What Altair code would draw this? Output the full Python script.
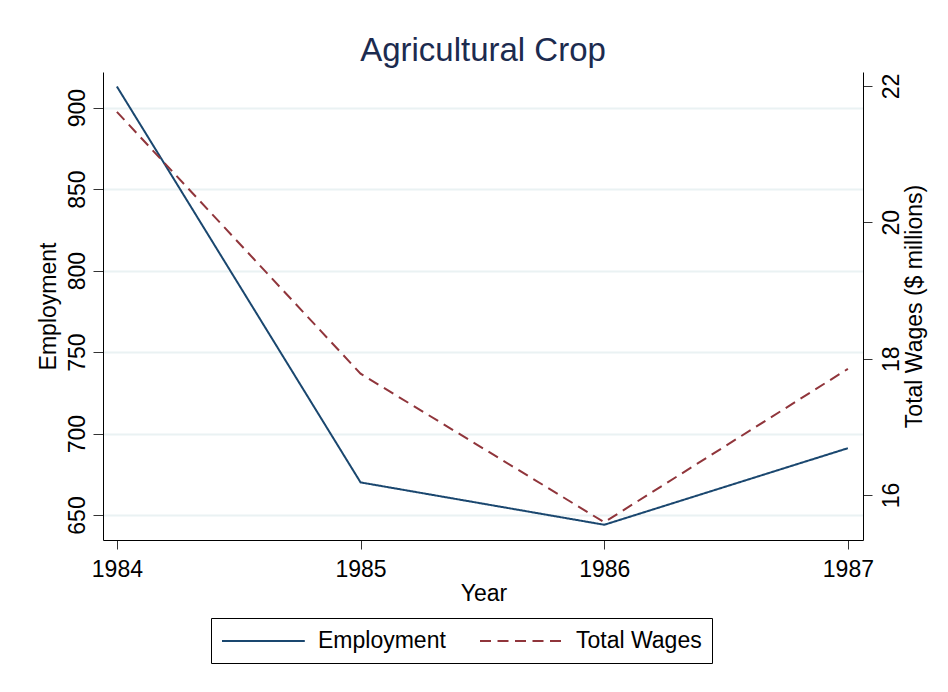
import altair as alt
import pandas as pd

years = [1984, 1985, 1986, 1987]
employment = [913, 670, 644, 691]
total_wages = [21.62, 17.78, 15.60, 17.85]
series_names = ["Employment", "Total Wages"]
emp_ticks = [650, 700, 750, 800, 850, 900]
wage_ticks = [16, 18, 20, 22]

df = pd.DataFrame({
    "Year": years * 2,
    "series": [series_names[0]] * 4 + [series_names[1]] * 4,
    "value": employment + total_wages,
})

FONT = "Liberation Sans"
W, H = 760, 468

color_scale = alt.Scale(domain=series_names, range=["#1a476f", "#90353b"])
dash_scale = alt.Scale(domain=series_names, range=[[1, 0], [11, 6.5]])

legend = alt.Legend(
    title=None, orient="none", legendX=108, legendY=546, direction="horizontal",
    symbolType="M-1,0H5.9", symbolSize=576, symbolStrokeWidth=2,
    labelFontSize=23, labelFont=FONT, labelColor="black", labelOffset=71,
    columnPadding=30, padding=10, strokeColor="black", fillColor="white",
)

x_enc = alt.X(
    "Year:Q",
    scale=alt.Scale(domain=[1983.943, 1987.062], nice=False, zero=False),
    axis=alt.Axis(
        values=years, format="d", grid=False, tickSize=9, labelFontSize=23,
        labelBaseline="alphabetic", labelPadding=27, labelColor="black",
        title="Year", titleFontSize=23, titleFontWeight="normal", titleColor="black",
        titleX=380.5, titleY=60, titleBaseline="alphabetic",
        domainColor="black", tickColor="#333333",
    ),
)

emp = alt.Chart(df).transform_filter(alt.datum.series == "Employment").mark_line(strokeWidth=2).encode(
    x=x_enc,
    y=alt.Y(
        "value:Q",
        scale=alt.Scale(domain=[634.65, 921.9], nice=False, zero=False),
        axis=alt.Axis(
            orient="left", values=emp_ticks, grid=True, gridColor="#eaf2f3", gridWidth=2,
            tickSize=10, labelAngle=270, labelAlign="center", labelBaseline="alphabetic",
            labelPadding=9, labelFontSize=23, labelColor="black",
            title="Employment", titleFontSize=23, titleFontWeight="normal", titleColor="black",
            titleAngle=270, titleX=-48, titleY=234, titleBaseline="alphabetic",
            domainColor="black", tickColor="#333333",
        ),
    ),
    color=alt.Color("series:N", scale=color_scale, legend=legend),
    strokeDash=alt.StrokeDash("series:N", scale=dash_scale, legend=legend),
)

wag = alt.Chart(df).transform_filter(alt.datum.series == "Total Wages").mark_line(strokeWidth=2).encode(
    x=x_enc,
    y=alt.Y(
        "value:Q",
        scale=alt.Scale(domain=[15.34, 22.205], nice=False, zero=False),
        axis=alt.Axis(
            orient="right", values=wage_ticks, grid=False,
            tickSize=9, labelAngle=270, labelAlign="center", labelBaseline="top",
            labelPadding=8, labelFontSize=23, labelColor="black",
            title="Total Wages ($ millions)", titleFontSize=23, titleFontWeight="normal",
            titleColor="black", titleAngle=270, titleX=58.5, titleY=234,
            titleBaseline="alphabetic",
            domainColor="black", tickColor="#333333",
        ),
    ),
    color=alt.Color("series:N", scale=color_scale, legend=legend),
    strokeDash=alt.StrokeDash("series:N", scale=dash_scale, legend=legend),
)

chart = alt.layer(emp, wag).resolve_scale(y="independent").properties(
    width=W, height=H,
    autosize=alt.AutoSizeParams(type="none"),
    padding={"left": 95, "top": 64, "right": 77, "bottom": 130},
    title=alt.TitleParams(
        "Agricultural Crop", fontSize=33, font=FONT, fontWeight="normal",
        color="#1c2b4f", offset=4, anchor="middle", frame="group",
    ),
).configure(font=FONT, background="white").configure_view(strokeWidth=0)

chart.save("out.html", embed_options={"renderer": "svg", "actions": False})
